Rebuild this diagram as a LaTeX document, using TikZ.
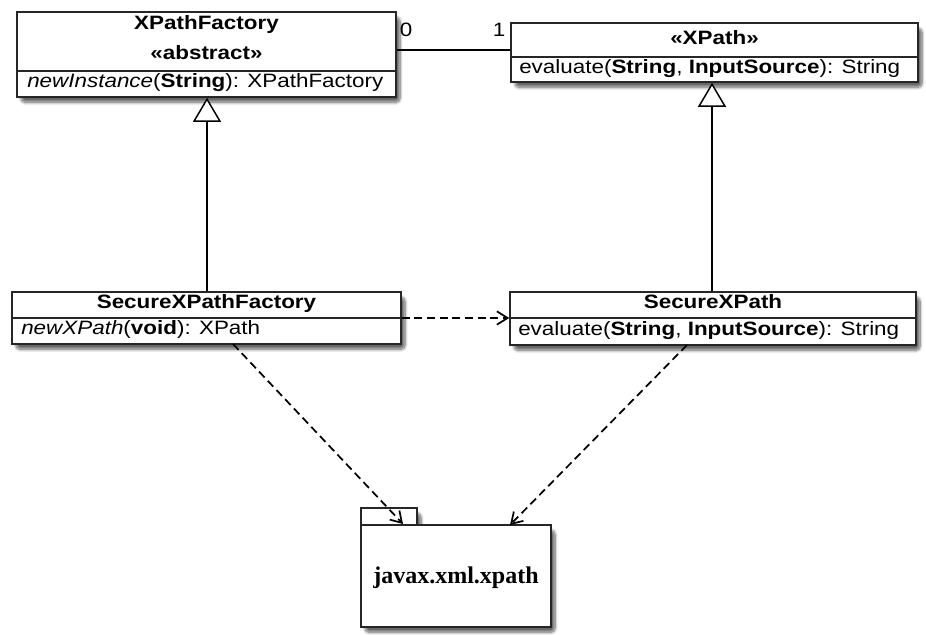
\documentclass[tikz,border=0pt]{standalone}
\usepackage{fontspec}
\setmainfont{Liberation Sans}[FakeStretch=1.16]
\newfontfamily\pkgfont{Liberation Serif}
\usetikzlibrary{arrows.meta,fit,shadows.blur}
\newcommand\umlfont{\fontsize{14.5}{17}\selectfont}
\begin{document}
\begin{tikzpicture}[x=0.75pt,y=-0.75pt,
  umlbox/.style={draw=black!85, line width=1.2pt, fill=white, inner sep=0pt,
    blur shadow={shadow xshift=3pt, shadow yshift=-4pt, shadow blur steps=10,
      shadow blur extra rounding=3pt, shadow opacity=60}},
  sepline/.style={draw=black!85, line width=1.2pt},
  umltext/.style={inner sep=0pt, font=\umlfont, text height=1.55ex, text depth=0.45ex},
  generalize/.style={line width=1.1pt, -{Triangle[open, length=18pt, width=21pt, fill=white]}},
  depend/.style={line width=1.3pt, dash pattern=on 6pt off 3.5pt, -{Straight Barb[length=8pt, width=10pt]}},
  assoc/.style={line width=1.1pt}]
\useasboundingbox (0,0) rectangle (926,635);

% XPathFactory
\node[umlbox, fit={(17,12)(396,97)}] (xpf) {};
\draw[sepline] (17,71) -- (396,71);
\node[umltext, font=\umlfont\bfseries] (xpfname) at (206.5,26) {XPathFactory};
\node[umltext, font=\umlfont\bfseries] (xpfster) at (206.5,56) {«abstract»};
\node[umltext, anchor=west] (xpfop) at (27,84) {\textit{newInstance}(\textbf{String}): XPathFactory};

% XPath
\node[umlbox, fit={(511,23)(918,82)}] (xp) {};
\draw[sepline] (511,57) -- (918,57);
\node[umltext, font=\umlfont\bfseries] (xpname) at (714.5,41) {«XPath»};
\node[umltext, anchor=west] (xpop) at (519,70) {evaluate(\textbf{String}, \textbf{InputSource}): String};

% SecureXPathFactory
\node[umlbox, fit={(12,292)(401,344)}] (sxf) {};
\draw[sepline] (12,318) -- (401,318);
\node[umltext, font=\umlfont\bfseries] (sxfname) at (206.5,305) {SecureXPathFactory};
\node[umltext, anchor=west] (sxfop) at (21,331) {\textit{newXPath}(\textbf{void}): XPath};

% SecureXPath
\node[umlbox, fit={(510,292)(916,345)}] (sxp) {};
\draw[sepline] (510,318) -- (916,318);
\node[umltext, font=\umlfont\bfseries] (sxpname) at (713,305) {SecureXPath};
\node[umltext, anchor=west] (sxpop) at (518,331.5) {evaluate(\textbf{String}, \textbf{InputSource}): String};

% Package
\node[umlbox, fit={(361,508)(417,525)}] (pkgtab) {};
\node[umlbox, fit={(361,525)(551,627)}] (pkg) {};
\node[inner sep=0pt, font=\pkgfont\bfseries\fontsize{18}{20}\selectfont] (pkgname) at (456,578) {javax.xml.xpath};

% association
\draw[assoc] (xpf.east |- 0,50) -- (xp.west |- 0,50);
\node[umltext] (m0) at (406,33) {0};
\node[umltext] (m1) at (499,33) {1};

% generalizations
\draw[generalize] (sxf.north -| 207,0) -- (xpf.south -| 207,0);
\draw[generalize] (sxp.north -| 712,0) -- (xp.south -| 712,0);

% dependencies
\draw[depend] (sxf.east |- 0,318) -- (sxp.west |- 0,318);
\coordinate (d1s) at (233,344);
\coordinate (d1e) at (403,524);
\coordinate (d2s) at (687,345);
\coordinate (d2e) at (510,525);
\draw[depend] (d1s) -- (d1e);
\draw[depend] (d2s) -- (d2e);
\end{tikzpicture}
\end{document}
